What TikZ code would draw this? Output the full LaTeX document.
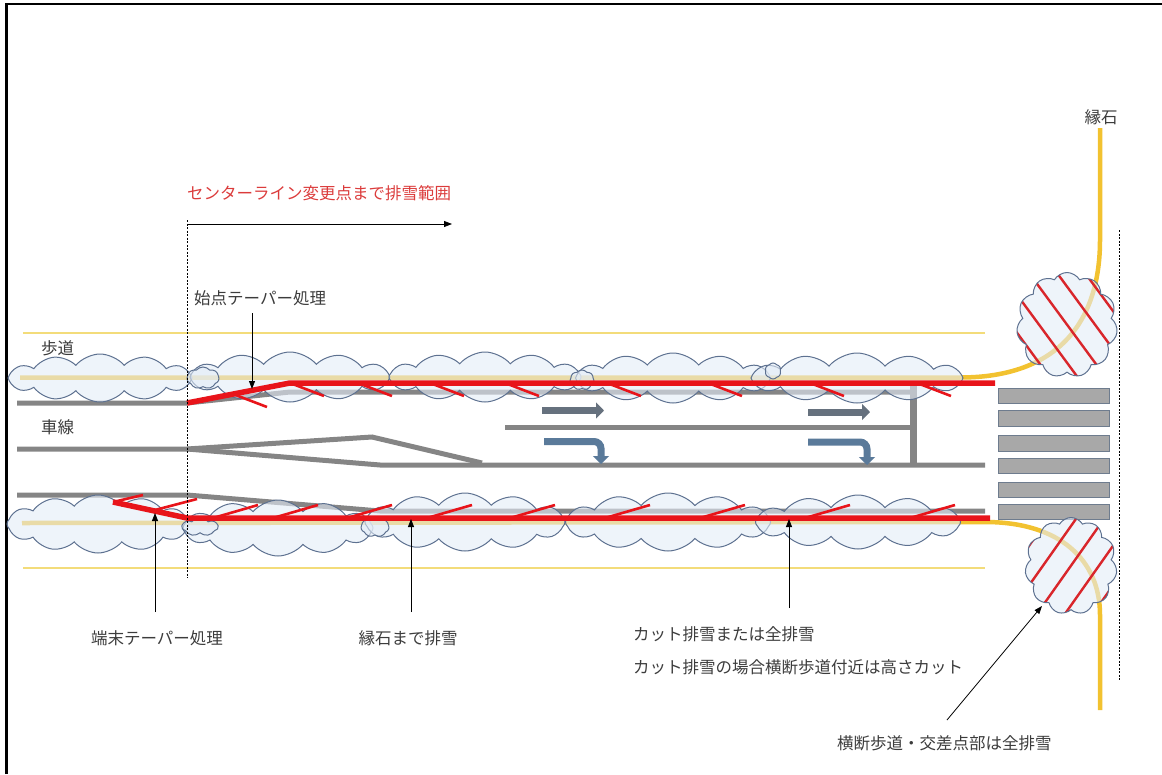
\documentclass[tikz,border=0pt]{standalone}
\usepackage{fontspec}
\newfontfamily\jpfont{Noto Sans CJK JP}
\usetikzlibrary{shapes.symbols,arrows.meta}

\definecolor{curbgold}{HTML}{F2C230}
\definecolor{edgeyellow}{HTML}{F3DC7A}
\definecolor{lanegray}{HTML}{858585}
\definecolor{snowfill}{HTML}{E3ECF7}
\definecolor{snowedge}{HTML}{5D7190}
\definecolor{plowred}{HTML}{E8141A}
\definecolor{hatchred}{HTML}{D9262B}
\definecolor{textgray}{HTML}{3C3C3C}
\definecolor{titlered}{HTML}{DB3B3B}
\definecolor{slatearrow}{HTML}{66717E}
\definecolor{steelarrow}{HTML}{5A7A9A}
\definecolor{zebragray}{HTML}{A8A8A8}
\definecolor{zebraedge}{HTML}{6E7C8E}

\tikzset{
  edgeline/.style={edgeyellow, line width=1.8pt},
  curbline/.style={curbgold, line width=4.5pt},
  laneline/.style={lanegray, line width=5pt},
  snowpile/.style={cloud, cloud ignores aspect, cloud puff arc=100, draw=snowedge, line width=1pt,
                   fill=snowfill, fill opacity=0.6, inner sep=0pt},
  plowline/.style={plowred, line width=5.5pt},
  plowhatch/.style={plowred, line width=2.6pt},
  crosshatch/.style={hatchred, line width=2.4pt},
  zebra/.style={draw=zebraedge, fill=zebragray, line width=1pt},
  callout/.style={black, line width=0.8pt, -{Triangle[length=8pt,width=6pt]}},
  jplabel/.style={font=\jpfont\fontsize{16.5}{18}\selectfont, text=textgray, inner sep=0pt},
  boundary/.style={black, line width=0.8pt, dash pattern=on 2pt off 1.5pt},
  lanearrow/.style={line width=7pt, -{Triangle[length=8pt,width=16pt]}},
}

\begin{document}
\begin{tikzpicture}[x=1pt,y=-1pt]
\useasboundingbox (0,0) rectangle (1162,774);

% frame
\draw[black, line width=2.2pt] (6.5,774) -- (6.5,4) -- (1162,4);

% outer edges of the sidewalks
\draw[edgeline] (23,333) -- (985,333);
\draw[edgeline] (23,568) -- (985,568);

% curb stones
\draw[curbline] (20,377.5) -- (960,377.5) .. controls (1060,377.5) and (1100,320) .. (1100,240) -- (1100,128);
\draw[curbline] (22,523) -- (985,522) .. controls (1060,522) and (1100,560) .. (1100,615) -- (1100,710);

% lane markings
\draw[laneline] (17,403) -- (187,403) -- (290,392) -- (913,392);
\draw[laneline] (17,449) -- (187,449) -- (372,437) -- (482,463);
\draw[laneline] (187,449) -- (380,465) -- (985,465);
\draw[laneline] (505,427) -- (913,427);
\draw[laneline] (17,495) -- (187,495) -- (380,511) -- (985,511);
\draw[lanegray, line width=7pt] (913,384) -- (913,466);

% snow piles along the sidewalks
\node[snowpile, cloud puffs=12, minimum width=184pt, minimum height=48pt] (pileTA) at (100,378) {};
\node[snowpile, cloud puffs=12, minimum width=200pt, minimum height=50pt] (pileTB) at (290,377) {};
\node[snowpile, cloud puffs=12, minimum width=192pt, minimum height=50pt] (pileTC) at (485,377) {};
\node[snowpile, cloud puffs=12, minimum width=195pt, minimum height=50pt] (pileTD) at (673,378) {};
\node[snowpile, cloud puffs=12, minimum width=212pt, minimum height=50pt] (pileTE) at (857,378) {};
\node[snowpile, cloud puffs=7, minimum width=32pt, minimum height=22pt] (pileTs1) at (203,378) {};
\node[snowpile, cloud puffs=7, minimum width=24pt, minimum height=20pt] (pileTs2) at (582,380) {};
\node[snowpile, cloud puffs=6, minimum width=16pt, minimum height=16pt] (pileTs3) at (773,371) {};

\node[snowpile, cloud puffs=12, minimum width=182pt, minimum height=58pt] (pileBA) at (98,524) {};
\node[snowpile, cloud puffs=12, minimum width=190pt, minimum height=56pt] (pileBB) at (278,528) {};
\node[snowpile, cloud puffs=12, minimum width=200pt, minimum height=58pt] (pileBC) at (465,522) {};
\node[snowpile, cloud puffs=12, minimum width=205pt, minimum height=58pt] (pileBD) at (668,522) {};
\node[snowpile, cloud puffs=12, minimum width=205pt, minimum height=54pt] (pileBE) at (858,522) {};
\node[snowpile, cloud puffs=7, minimum width=36pt, minimum height=18pt] (pileBs1) at (200,527) {};
\node[snowpile, cloud puffs=7, minimum width=28pt, minimum height=20pt] (pileBs2) at (375,527) {};

% removal lines with taper
\draw[plowline] (187,403) -- (290,383) -- (995,383);
\foreach \x/\y in {233/394, 290/383, 358/383, 430/383, 505/383, 607/383, 708/383, 810/383, 917/383}
  \draw[plowhatch] (\x,\y) -- ++(34,13);
\draw[plowline] (113,502) -- (187,518) -- (990,518);
\draw[plowhatch] (113,502) -- (143,495);
\draw[plowhatch] (155,510) -- ++(42,-11);
\foreach \x in {213, 273, 347, 427, 510, 605, 700, 805, 910}
  \draw[plowhatch] (\x,518) -- ++(45,-13);

% traffic direction arrows
\draw[lanearrow, slatearrow] (542,410.5) -- (604,410.5);
\draw[lanearrow, slatearrow] (808,412) -- (870,412);
\draw[lanearrow, steelarrow, rounded corners=7pt] (544,441.5) -- (601,441.5) -- (601,464);
\draw[lanearrow, steelarrow, rounded corners=7pt] (808,442) -- (867,442) -- (867,465);

% pedestrian crossing
\foreach \t/\b in {388/403, 410/426, 435/451, 458/473, 482/497, 504/519}
  \draw[zebra] (998,\t) rectangle (1109,\b);

% fully cleared corners
\node[snowpile, cloud puff arc=120, cloud puffs=11, minimum width=101pt, minimum height=105pt,
  path picture={
    \foreach \d in {-56,-28,0,28,56}
      \draw[crosshatch] ([xshift=\d pt]path picture bounding box.center) ++(-50,-68) -- ++(100,136);
  }] (cornerTop) at (1067,325) {};
\node[snowpile, cloud puff arc=120, cloud puffs=11, minimum width=92pt, minimum height=97pt,
  path picture={
    \foreach \d in {-56,-28,0,28,56}
      \draw[crosshatch] ([xshift=\d pt]path picture bounding box.center) ++(-48,68) -- ++(96,-136);
  }] (cornerBottom) at (1071,566) {};

% boundaries
\draw[boundary] (187,220) -- (187,578);
\draw[boundary] (1119,230) -- (1119,680);

% range of removal
\node[jplabel, text=titlered, anchor=west] (rangeTitle) at (187,193) {センターライン変更点まで排雪範囲};
\coordinate (rangeStart) at (188,224);
\coordinate (rangeEnd) at (452,224);
\draw[callout] (rangeStart) -- (rangeEnd);

% labels
\node[jplabel, anchor=west] (sidewalkLabel) at (41,348) {歩道};
\node[jplabel, anchor=west] (laneLabel) at (41,427) {車線};
\node[jplabel] (curbLabel) at (1101,117) {縁石};

\node[jplabel, anchor=west] (startTaper) at (194,298) {始点テーパー処理};
\coordinate (startTaperTail) at (252,313);
\coordinate (startTaperTip) at (252,389);
\draw[callout] (startTaperTail) -- (startTaperTip);

\node[jplabel] (endTaper) at (157,638) {端末テーパー処理};
\coordinate (endTaperTail) at (155,612);
\coordinate (endTaperTip) at (155,513);
\draw[callout] (endTaperTail) -- (endTaperTip);

\node[jplabel] (toCurb) at (408,638) {縁石まで排雪};
\coordinate (toCurbTail) at (411,612);
\coordinate (toCurbTip) at (411,519);
\draw[callout] (toCurbTail) -- (toCurbTip);

\node[jplabel, anchor=west] (cutLabel) at (633,634) {カット排雪または全排雪};
\node[jplabel, anchor=west] (cutNote) at (633,667) {カット排雪の場合横断歩道付近は高さカット};
\coordinate (cutTail) at (789,608);
\coordinate (cutTip) at (789,519);
\draw[callout] (cutTail) -- (cutTip);

\node[jplabel, anchor=west] (crossingLabel) at (837,743) {横断歩道・交差点部は全排雪};
\coordinate (crossingTail) at (947,720);
\coordinate (crossingTip) at (1042,606);
\draw[callout] (crossingTail) -- (crossingTip);
\end{tikzpicture}
\end{document}
